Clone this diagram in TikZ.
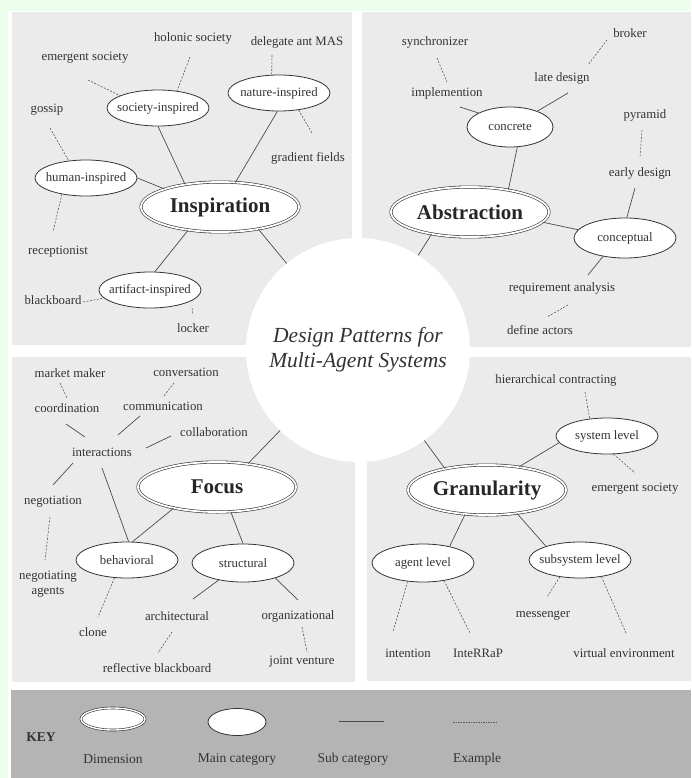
\documentclass[tikz,border=0pt]{standalone}
\usepackage{fontspec}
\setmainfont{Liberation Serif}
\usetikzlibrary{shapes.geometric}

\definecolor{pagegreen}{RGB}{236,254,236}
\definecolor{panelgray}{RGB}{235,235,235}
\definecolor{keygray}{RGB}{180,180,180}
\definecolor{inkgray}{RGB}{51,51,51}

\newcommand{\lblfont}{\fontsize{12.8}{15}\selectfont}
\newcommand{\keyfont}{\fontsize{13.5}{16}\selectfont}

\begin{document}
\begin{tikzpicture}[
    x=1pt, y=-1pt,
    dimension/.style={ellipse, draw=inkgray, line width=0.6pt, double=white, double distance=1.8pt, fill=white, minimum width=158pt, minimum height=50pt, inner xsep=0pt, inner ysep=4pt, font=\fontsize{21}{24}\selectfont\bfseries, text=black!85},
    category/.style={ellipse, draw=inkgray, line width=0.8pt, fill=white, minimum width=102pt, minimum height=36pt, inner xsep=-7pt, inner ysep=5pt, font=\lblfont, text=inkgray},
    leaf/.style={inner sep=2pt, font=\lblfont, text=inkgray, align=center},
    sub/.style={draw=black!70, line width=0.7pt},
    link/.style={draw=black!65, line width=0.6pt, dash pattern=on 2pt off 1.5pt},
    panel/.style={fill=panelgray, draw=none},
    keytext/.style={font=\keyfont, text=inkgray}
]
\useasboundingbox (0,0) rectangle (691,778);

% page and panels
\fill[pagegreen] (0,0) rectangle (691,778);
\fill[white] (8,11) rectangle (691,778);
\fill[panel] (12,12) rectangle (352,345);
\fill[panel] (362,12) rectangle (691,347);
\fill[panel] (12,357) rectangle (355,682);
\fill[panel] (367,357) rectangle (691,681);
\fill[keygray] (11,690) rectangle (691,778);

% centre
\node[circle, fill=white, minimum size=224pt, inner sep=0pt, align=center, font=\fontsize{21.5}{25}\selectfont\itshape, text=inkgray] (hub) at (358,350) {Design Patterns for\\Multi-Agent Systems};

% Inspiration
\node[dimension] (inspiration) at (220,207) {Inspiration};
\node[category] (society) at (158,108) {society-inspired};
\node[category] (nature) at (279,93) {nature-inspired};
\node[category] (human) at (86,178) {human-inspired};
\node[category] (artifact) at (150,290) {artifact-inspired};
\node[leaf] (holonic) at (193,38) {holonic society};
\node[leaf] (delegate) at (297,42) {delegate ant MAS};
\node[leaf] (emergentsoc) at (85,58) {emergent society};
\node[leaf] (gossip) at (47,110) {gossip};
\node[leaf] (gradient) at (308,158) {gradient fields};
\node[leaf] (receptionist) at (58,252) {receptionist};
\node[leaf] (blackboard) at (53,300) {blackboard};
\node[leaf] (locker) at (193,328) {locker};

\draw[sub] (society.270) -- (inspiration.147);
\draw[sub] (nature.265) -- (inspiration.58);
\draw[sub] (human.east) -- (inspiration.162);
\draw[sub] (inspiration.216) -- (artifact.75);
\draw[sub] (inspiration.-30) -- (hub);
\draw[link] ([shift={(-3,19)}]holonic.center) -- (society.42);
\draw[link] ([shift={(3,22)}]emergentsoc.center) -- (society.162);
\draw[link] ([shift={(-25,13)}]delegate.center) -- (nature.112);
\draw[link] (nature.-41) -- ([shift={(4,-25)}]gradient.center);
\draw[link] ([shift={(3,18)}]gossip.center) -- (human.135);
\draw[link] (human.214) -- ([shift={(-5,-20)}]receptionist.center);
\draw[link] ([shift={(30,2)}]blackboard.center) -- (artifact.190);
\draw[link, shorten <=7pt] (artifact.-15) -- ([shift={(0,-13)}]locker.center);

% Abstraction
\node[dimension] (abstraction) at (470,212) {Abstraction};
\node[category, minimum width=86pt, minimum height=40pt] (concrete) at (510,127) {concrete};
\node[category, minimum height=40pt] (conceptual) at (625,238) {conceptual};
\node[leaf] (synchronizer) at (435,42) {synchronizer};
\node[leaf] (broker) at (630,33) {broker};
\node[leaf] (latedesign) at (562,78) {late design};
\node[leaf] (implemention) at (447,93) {implemention};
\node[leaf] (pyramid) at (645,115) {pyramid};
\node[leaf] (earlydesign) at (640,173) {early design};
\node[leaf] (reqanalysis) at (562,288) {requirement analysis};
\node[leaf] (defineactors) at (540,330) {define actors};

\draw[sub] (concrete.-70) -- (abstraction.30);
\draw[sub] (abstraction.-8) -- (conceptual.170);
\draw[sub] (abstraction.210) -- (hub);
\draw[sub] (concrete.156) -- ([shift={(13,14)}]implemention.center);
\draw[sub] (concrete.30) -- ([shift={(6,15)}]latedesign.center);
\draw[sub] (conceptual.85) -- ([shift={(-5,15)}]earlydesign.center);
\draw[sub] (conceptual.220) -- ([shift={(26,-13)}]reqanalysis.center);
\draw[link] ([shift={(2,16)}]synchronizer.center) -- ([shift={(0,-11)}]implemention.center);
\draw[link] ([shift={(-23,7)}]broker.center) -- ([shift={(26,-13)}]latedesign.center);
\draw[link] ([shift={(-3,15)}]pyramid.center) -- ([shift={(0,-16)}]earlydesign.center);
\draw[link] ([shift={(6,17)}]reqanalysis.center) -- ([shift={(7,-13)}]defineactors.center);

% Focus
\node[dimension] (focus) at (217,487) {Focus};
\node[category] (behavioral) at (127,560) {behavioral};
\node[category, minimum height=38pt] (structural) at (243,563) {structural};
\node[leaf] (marketmaker) at (70,373) {market maker};
\node[leaf] (conversation) at (186,372) {conversation};
\node[leaf] (coordination) at (67,408) {coordination};
\node[leaf] (communication) at (163,406) {communication};
\node[leaf] (collaboration) at (214,432) {collaboration};
\node[leaf] (interactions) at (102,452) {interactions};
\node[leaf] (negotiation) at (53,502) {negotiation};
\node[leaf] (negotiatingagents) at (48,584) {negotiating\\agents};
\node[leaf] (clone) at (93,632) {clone};
\node[leaf] (architectural) at (177,616) {architectural};
\node[leaf] (organizational) at (298,616) {organizational};
\node[leaf] (reflectivebb) at (157,668) {reflective blackboard};
\node[leaf] (jointventure) at (302,662) {joint venture};

\draw[sub] ([shift={(-17,-15)}]interactions.center) -- ([shift={(-1,16)}]coordination.center);
\draw[sub] ([shift={(16,-17)}]interactions.center) -- ([shift={(-23,10)}]communication.center);
\draw[sub] ([shift={(44,-4)}]interactions.center) -- ([shift={(-43,4)}]collaboration.center);
\draw[sub] ([shift={(-29,11)}]interactions.center) -- ([shift={(0,-17)}]negotiation.center);
\draw[sub] ([shift={(0,16)}]interactions.center) -- (behavioral.85);
\draw[sub] (focus.206) -- (behavioral.73);
\draw[sub] (focus.-61) -- (structural.90);
\draw[sub] (structural.215) -- ([shift={(16,-17)}]architectural.center);
\draw[sub] (structural.-25) -- ([shift={(0,-16)}]organizational.center);
\draw[sub] (focus.37) -- (hub);
\draw[link] ([shift={(-10,10)}]marketmaker.center) -- ([shift={(0,-10)}]coordination.center);
\draw[link] ([shift={(-12,11)}]conversation.center) -- ([shift={(0,-9)}]communication.center);
\draw[link] ([shift={(-3,15)}]negotiation.center) -- ([shift={(-3,-24)}]negotiatingagents.center);
\draw[link] (behavioral.235) -- ([shift={(5,-15)}]clone.center);
\draw[link] ([shift={(-5,16)}]architectural.center) -- ([shift={(1,-15)}]reflectivebb.center);
\draw[link] ([shift={(4,11)}]organizational.center) -- ([shift={(5,-10)}]jointventure.center);

% Granularity
\node[dimension] (granularity) at (487,490) {Granularity};
\node[category] (systemlevel) at (607,436) {system level};
\node[category, minimum height=38pt] (agentlevel) at (423,563) {agent level};
\node[category] (subsystemlevel) at (580,560) {subsystem level};
\node[leaf] (hiercontract) at (556,380) {hierarchical contracting};
\node[leaf] (emergentsoc2) at (635,489) {emergent society};
\node[leaf] (messenger) at (543,616) {messenger};
\node[leaf] (intention) at (408,653) {intention};
\node[leaf] (interrap) at (478,653) {InteRRaP};
\node[leaf] (virtualenv) at (624,653) {virtual environment};

\draw[sub] (granularity.36) -- (systemlevel.188);
\draw[sub] (granularity.228) -- (agentlevel.32);
\draw[sub] (granularity.-38) -- (subsystemlevel.158);
\draw[sub] (granularity.153) -- (hub);
\draw[link] ([shift={(29,12)}]hiercontract.center) -- (systemlevel.135);
\draw[link] (systemlevel.-70) -- ([shift={(0,-16)}]emergentsoc2.center);
\draw[link] (agentlevel.230) -- ([shift={(-15,-21)}]intention.center);
\draw[link] (agentlevel.-40) -- ([shift={(-8,-20)}]interrap.center);
\draw[link] (subsystemlevel.220) -- ([shift={(4,-19)}]messenger.center);
\draw[link] (subsystemlevel.-38) -- ([shift={(2,-20)}]virtualenv.center);

% Key
\node[font=\keyfont\bfseries, text=inkgray] (keylabel) at (41,737) {KEY};
\node[dimension, minimum width=64pt, minimum height=22pt, double distance=1.4pt] (keydim) at (113,719) {};
\node[keytext] (keydimtext) at (113,759) {Dimension};
\node[category, minimum width=58pt, minimum height=27pt] (keycat) at (237,722) {};
\node[keytext] (keycattext) at (237,759) {Main category};
\coordinate (subleft) at (339,721);
\coordinate (subright) at (384,721);
\draw[sub] (subleft) -- (subright);
\node[keytext] (keysubtext) at (353,759) {Sub category};
\coordinate (exleft) at (453,722);
\coordinate (exright) at (497,722);
\draw[link, dash pattern=on 1.5pt off 1pt] (exleft) -- (exright);
\node[keytext] (keyextext) at (477,759) {Example};

\end{tikzpicture}
\end{document}
